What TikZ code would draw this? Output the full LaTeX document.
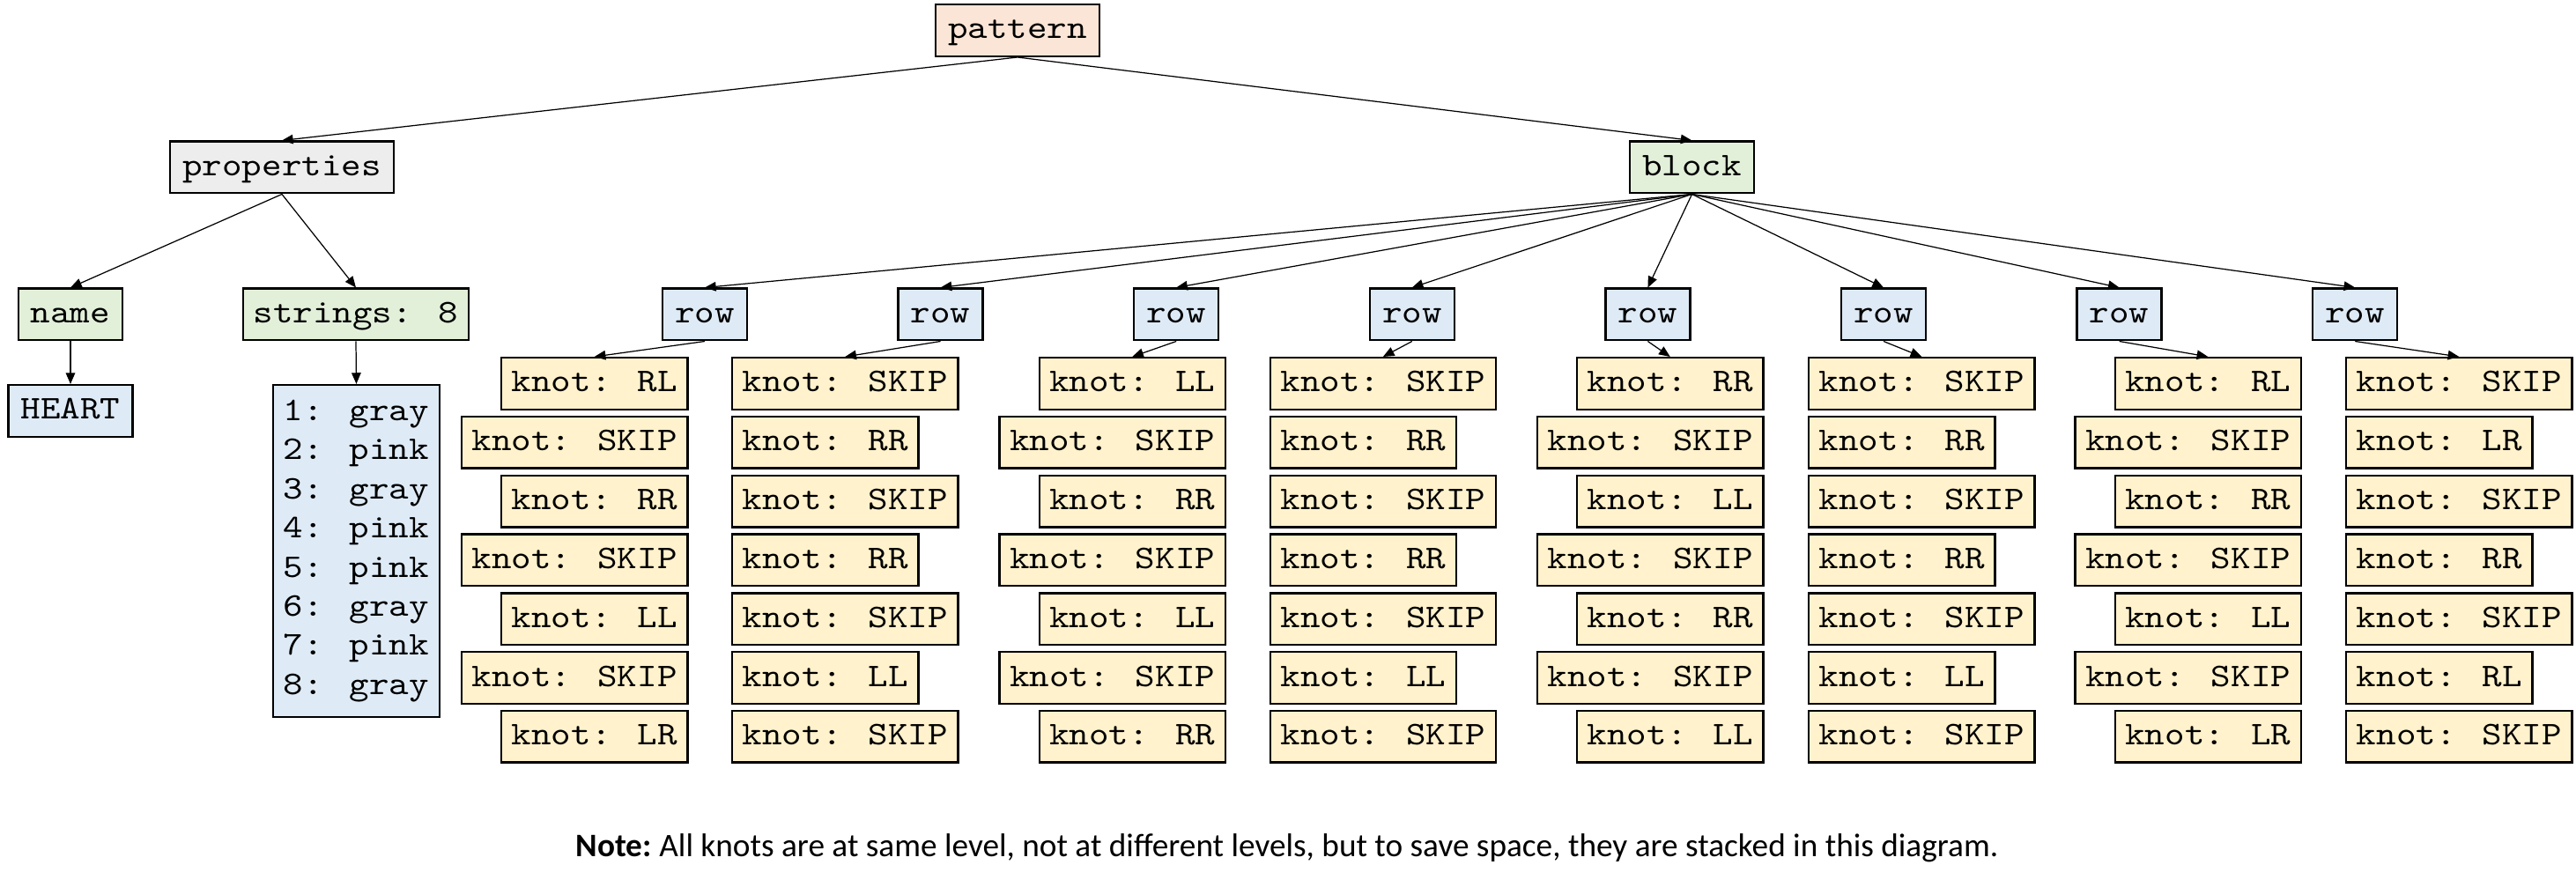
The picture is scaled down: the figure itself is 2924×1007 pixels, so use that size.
\documentclass[tikz,border=0pt]{standalone}
\usepackage{fontspec}
\setmainfont{Carlito}
\newfontfamily\monof[FakeStretch=1.143]{lmmono10-regular.otf}
\usetikzlibrary{arrows.meta}
\definecolor{cpeach}{HTML}{FBE5D6}
\definecolor{cgray}{HTML}{EDEDED}
\definecolor{cgreen}{HTML}{E2F0D9}
\definecolor{cblue}{HTML}{DEEBF7}
\definecolor{cyellow}{HTML}{FFF2CC}
\tikzset{
  box/.style={draw=black, line width=0.7pt, font=\monof\fontsize{10.67pt}{12.63pt}\selectfont,
    inner xsep=0.142cm, inner ysep=0pt, minimum height=0.585cm, text height=0.26cm, text depth=0.07cm},
  colonbox/.style={box, inner xsep=0.117cm},
  peachbox/.style={box, fill=cpeach},
  graybox/.style={box, fill=cgray},
  greenbox/.style={box, fill=cgreen},
  bluebox/.style={box, fill=cblue},
  knot/.style={colonbox, fill=cyellow},
  listbox/.style={draw=black, line width=0.7pt, fill=cblue, font=\monof\fontsize{10.67pt}{12.63pt}\selectfont,
    inner xsep=0.117cm, inner ysep=0pt, minimum height=3.765cm, align=left},
  conn/.style={-{Triangle[length=3.6pt,width=3pt]}, line width=0.35pt}
}
\begin{document}
\begin{tikzpicture}[x=0.01cm, y=-0.01cm]
\useasboundingbox (0,0) rectangle (2924,1007);
% top levels
\node[peachbox] (pattern) at (1155,34.5) {pattern};
\node[graybox] (props) at (320,190) {properties};
\node[greenbox] (block) at (1920.5,190) {block};
\node[greenbox] (name) at (80,357) {name};
\node[greenbox, colonbox] (strings) at (404,357) {strings: 8};
\node[bluebox] (heart) at (80,466.5) {HEART};
\node[listbox] (list) at (404.5,625.5) {1: gray\\2: pink\\3: gray\\4: pink\\5: pink\\6: gray\\7: pink\\8: gray};
% rows
\foreach \i in {1,...,8}
  \node[bluebox] (r\i) at ({800+267.6*(\i-1)},357) {row};
% knots
\foreach \t [count=\i] in {RL,SKIP,RR,SKIP,LL,SKIP,LR}
  \node[knot, anchor=east] (k1-\i) at (781.5,{435.5+66.8*(\i-1)}) {knot: \t};
\foreach \t [count=\i] in {SKIP,RR,SKIP,RR,SKIP,LL,SKIP}
  \node[knot, anchor=west] (k2-\i) at (830,{435.5+66.8*(\i-1)}) {knot: \t};
\foreach \t [count=\i] in {LL,SKIP,RR,SKIP,LL,SKIP,RR}
  \node[knot, anchor=east] (k3-\i) at (1392,{435.5+66.8*(\i-1)}) {knot: \t};
\foreach \t [count=\i] in {SKIP,RR,SKIP,RR,SKIP,LL,SKIP}
  \node[knot, anchor=west] (k4-\i) at (1440.6,{435.5+66.8*(\i-1)}) {knot: \t};
\foreach \t [count=\i] in {RR,SKIP,LL,SKIP,RR,SKIP,LL}
  \node[knot, anchor=east] (k5-\i) at (2002.5,{435.5+66.8*(\i-1)}) {knot: \t};
\foreach \t [count=\i] in {SKIP,RR,SKIP,RR,SKIP,LL,SKIP}
  \node[knot, anchor=west] (k6-\i) at (2052,{435.5+66.8*(\i-1)}) {knot: \t};
\foreach \t [count=\i] in {RL,SKIP,RR,SKIP,LL,SKIP,LR}
  \node[knot, anchor=east] (k7-\i) at (2613,{435.5+66.8*(\i-1)}) {knot: \t};
\foreach \t [count=\i] in {SKIP,LR,SKIP,RR,SKIP,RL,SKIP}
  \node[knot, anchor=west] (k8-\i) at (2662,{435.5+66.8*(\i-1)}) {knot: \t};
% connectors
\draw[conn] (pattern.south) -- (props.north);
\draw[conn] (pattern.south) -- (block.north);
\draw[conn] (props.south) -- (name.north);
\draw[conn] (props.south) -- (strings.north);
\draw[conn] (name.south) -- (heart.north);
\draw[conn] (strings.south) -- (list.north);
\foreach \i in {1,...,8} {
  \draw[conn] (block.south) -- (r\i.north);
  \draw[conn] (r\i.south) -- (k\i-1.north);
}
% note
\node[anchor=base, font=\frenchspacing\fontsize{10.6pt}{12.7pt}\selectfont] (note) at (1461,973)
  {\textbf{Note:} All knots are at same level, not at different levels, but to save space, they are stacked in this diagram.};
\end{tikzpicture}
\end{document}
